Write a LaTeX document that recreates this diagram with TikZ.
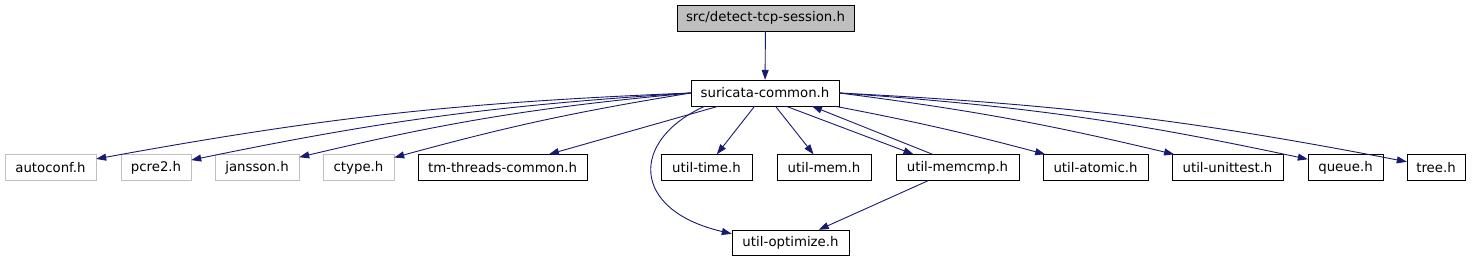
\documentclass[tikz,border=0pt]{standalone}
\usepackage{fontspec}
\setmainfont{DejaVu Sans}
\usepackage{tikz}
\usetikzlibrary{shapes,arrows.meta}
\definecolor{edgeblue}{HTML}{191970}
\definecolor{rootgray}{HTML}{BFBFBF}
\tikzstyle{file} = [draw=black, rectangle, minimum height=26pt, inner sep=0pt, font=\fontsize{13.3}{16}\selectfont]
\tikzstyle{sysfile} = [file, draw=rootgray]
\tikzstyle{line} = [draw=edgeblue, line width=0.9pt, -{Triangle[length=10pt,width=7pt]}]

\begin{document}
\begin{tikzpicture}[x=1pt, y=-1pt]
\useasboundingbox[fill=white] (0,0) rectangle (1473,261);
%
\node[file, fill=rootgray, minimum width=177pt] (root) at (765.5,18) {src/detect-tcp-session.h};
\node[file, minimum width=148pt] (common) at (765,93) {suricata-common.h};
%
\node[sysfile, minimum width=91pt] (autoconf) at (50.5,167.5) {autoconf.h};
\node[sysfile, minimum width=70pt] (pcre) at (156,167.5) {pcre2.h};
\node[sysfile, minimum width=84pt] (jansson) at (257,167.5) {jansson.h};
\node[sysfile, minimum width=71pt] (ctype) at (358.5,167.5) {ctype.h};
\node[file, minimum width=169pt] (threads) at (502.5,167.5) {tm-threads-common.h};
\node[file, minimum width=91pt] (time) at (706.5,167.5) {util-time.h};
\node[file, minimum width=94pt] (mem) at (824,167.5) {util-mem.h};
\node[file, minimum width=123pt] (memcmp) at (957.5,167.5) {util-memcmp.h};
\node[file, minimum width=105pt] (atomic) at (1095.5,167.5) {util-atomic.h};
\node[file, minimum width=111pt] (unittest) at (1227.5,167.5) {util-unittest.h};
\node[file, minimum width=75pt] (queue) at (1345.5,167.5) {queue.h};
\node[file, minimum width=58pt] (tree) at (1436,167.5) {tree.h};
%
\node[file, minimum width=117pt, minimum height=25pt] (optimize) at (790.5,242.5) {util-optimize.h};
%
\path[line] (root) -- (common);
\path[line] (common.west) to[bend right=4] (autoconf);
\path[line] (common.west) to[bend right=4] (pcre);
\path[line] (common.west) to[bend right=4] (jansson);
\path[line] (common.west) to[bend right=3] (ctype);
\path[line] (common) -- (threads);
\path[line] (common) -- (time);
\path[line] (common) -- (mem);
\path[line] ([xshift=21pt]common.south) -- ([xshift=-44pt]memcmp.north);
\path[line] ([xshift=-25pt]memcmp.north) -- ([xshift=47pt]common.south);
\path[line] (common) to[bend left=2] (atomic);
\path[line] (common.east) to[bend left=3] (unittest);
\path[line] (common.east) to[bend left=4] (queue);
\path[line] (common.east) to[bend left=4] (tree);
%
\path[line] ([xshift=14pt]common.south west) .. controls (630,140) and (630,210) .. ([yshift=-4pt]optimize.north west);
\path[line] (memcmp) -- (optimize);
\end{tikzpicture}
\end{document}
